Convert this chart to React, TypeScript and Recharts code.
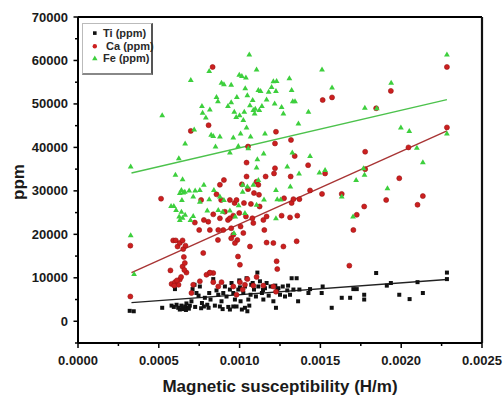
import React from 'react';
import { ScatterChart, Scatter, XAxis, YAxis, ReferenceLine, Legend } from 'recharts';

// x values are in units of 1e-4 H/m, y values in ppm
const X_UNIT = 1e-4;

const seriesNames = ['Ti (ppm)', ' Ca (ppm)', 'Fe (ppm)'];

const tiPoints: [number, number][] = [
  [3.20, 2400], [3.45, 2300], [5.21, 3100], [6.0, 7400], [5.79, 3600], [5.93, 3300], [6.10, 3800],
  [6.20, 3100], [6.30, 2700], [6.40, 3600], [6.51, 2800], [6.63, 3400], [6.71, 4100], [6.82, 3100],
  [6.92, 3600], [7.02, 4600], [7.09, 7400], [7.21, 8400], [7.33, 6500], [7.46, 5900], [7.54, 8000],
  [7.67, 4200], [7.79, 3400], [7.85, 5400], [8.0, 3800], [8.12, 6500], [8.20, 5000], [8.37, 9700],
  [8.47, 3600], [8.57, 7100], [8.68, 6100], [8.78, 3400], [8.88, 4600], [8.99, 6500], [9.09, 8000],
  [9.19, 5700], [9.30, 3300], [9.40, 7300], [9.50, 8800], [9.61, 6500], [9.71, 5000], [9.81, 3400],
  [9.92, 7300], [9.98, 9400], [10.06, 4600], [10.14, 2700], [10.23, 6500], [10.33, 8000], [10.43, 9900],
  [10.54, 5000], [10.60, 3600], [10.68, 6100], [10.81, 8800], [10.89, 7300], [11.01, 5700], [11.10, 11200],
  [11.16, 8000], [11.26, 9200], [11.38, 6500], [11.47, 5000], [11.57, 7600], [11.67, 8800], [11.80, 5900],
  [11.92, 8000], [12.09, 4600], [12.21, 8200], [12.25, 3100], [12.33, 7300], [12.50, 6100], [12.67, 8000],
  [12.81, 5700], [12.95, 7100], [13.12, 6100], [13.22, 9900], [13.33, 7300], [13.53, 9900], [13.62, 4600],
  [13.70, 7300], [14.26, 6500], [14.36, 7400], [15.08, 6500], [15.14, 8000], [15.70, 3100], [16.32, 5400],
  [16.84, 5400], [17.04, 7400], [17.25, 7400], [17.71, 6100], [17.71, 5000], [18.45, 11100], [19.11, 8200],
  [19.36, 8800], [19.88, 6100], [20.52, 5100], [21.01, 9000], [21.34, 6500], [22.83, 11200], [22.83, 9700],
  [8.08, 3100], [8.95, 2800], [9.40, 2700], [10.33, 3100], [10.48, 2300], [9.61, 3400],
  [6.45, 3000], [6.68, 2600], [6.86, 2900], [7.25, 3300], [7.62, 3000], [10.02, 7800], [10.72, 8400],
  [11.45, 7200], [12.40, 7600], [13.0, 8200],
];

const caPoints: [number, number][] = [
  [3.24, 17400], [3.24, 5700], [5.14, 28200], [5.72, 11700], [5.79, 8600], [5.89, 18600], [6.05, 18600],
  [6.16, 17200], [6.30, 18000], [6.47, 18600], [6.51, 16600], [6.65, 17400], [6.22, 8400], [6.0, 9000],
  [6.3, 9600], [6.47, 12600], [6.55, 14800], [6.61, 13400], [6.71, 11200], [6.98, 43800], [7.23, 22700],
  [7.5, 21000], [7.62, 27900], [7.75, 15700], [8.08, 45100], [8.06, 22900], [8.16, 21000], [8.16, 11100],
  [8.33, 58500], [8.37, 11100], [8.37, 24600], [8.57, 29200], [8.66, 18700], [8.78, 23700], [8.86, 27900],
  [8.99, 21000], [9.09, 25200], [9.03, 32500], [9.28, 23300], [9.40, 23700], [9.48, 21400], [9.48, 19100],
  [9.61, 24300], [9.69, 27200], [9.81, 27900], [9.86, 18700], [9.90, 14900], [9.98, 24900], [10.02, 13000],
  [10.06, 21800], [10.14, 31500], [10.23, 20300], [10.27, 27200], [10.39, 24100], [10.43, 36500], [10.52, 40200],
  [10.64, 17200], [10.70, 27000], [10.79, 23700], [10.89, 29500], [11.05, 32100], [11.16, 31400], [11.20, 29100],
  [11.24, 26400], [11.47, 23300], [11.53, 21000], [11.61, 33300], [11.67, 24100], [11.67, 18100], [12.09, 18000],
  [12.13, 34000], [12.19, 35200], [12.19, 40900], [12.25, 43600], [12.29, 13800], [12.33, 12000], [12.60, 24300],
  [12.71, 17200], [12.75, 28300], [13.12, 23900], [13.16, 33300], [13.18, 41700], [13.22, 27200], [13.33, 28100],
  [13.41, 38000], [13.53, 18400], [13.57, 24300], [13.70, 28100], [14.24, 35900], [14.36, 30100], [15.10, 29300],
  [15.14, 50900], [15.29, 34000], [15.72, 51500], [16.32, 29300], [16.79, 12800], [17.04, 21000], [17.25, 24500],
  [17.71, 26400], [17.77, 39000], [17.77, 35000], [18.45, 49000], [19.07, 27900], [19.36, 53000], [19.88, 32900],
  [20.45, 40000], [21.01, 26800], [21.34, 28800], [22.83, 58500], [22.83, 44600],
  [7.54, 9200], [7.95, 10700], [8.16, 11200], [8.37, 9000], [8.68, 8000], [8.88, 9000], [9.61, 8000],
  [9.81, 6100], [10.02, 9000], [10.19, 7300], [10.33, 8400], [10.48, 9700], [10.85, 8200], [11.05, 10200],
  [11.47, 8200], [12.09, 8000], [12.25, 6800], [7.02, 6500], [7.13, 8400], [9.61, 19900], [9.71, 18000],
  [10.52, 30400], [10.85, 22600], [9.40, 27900], [10.43, 33300], [8.78, 31400], [7.79, 23300], [8.68, 21000],
  [5.95, 8200], [6.12, 9400], [6.38, 10200], [6.58, 11800],
];

const fePoints: [number, number][] = [
  [3.26, 35600], [3.26, 19800], [3.47, 10900], [5.21, 47400], [6.03, 33700], [6.24, 37500], [6.47, 32700],
  [6.63, 40900], [6.98, 55500], [7.19, 44100], [7.67, 49500], [7.71, 48000], [7.91, 46900], [8.12, 57600],
  [8.16, 48700], [8.24, 42900], [8.37, 42600], [8.57, 51600], [8.66, 50600], [8.88, 54900], [9.03, 54500],
  [9.28, 49500], [8.51, 40200], [8.78, 42500], [9.40, 38800], [9.48, 50400], [9.48, 54400], [9.61, 42300],
  [9.67, 48200], [9.79, 47000], [9.83, 51600], [9.92, 40300], [9.98, 56700], [10.0, 47400], [10.06, 43200],
  [10.14, 56400], [10.23, 46300], [10.29, 48200], [10.35, 53600], [10.39, 56100], [10.43, 44600], [10.48, 52000],
  [10.54, 39800], [10.60, 61400], [10.64, 49700], [10.68, 42500], [10.81, 50900], [10.85, 48600], [10.93, 47800],
  [10.97, 48900], [11.05, 57900], [11.10, 37300], [11.16, 53200], [11.22, 48600], [11.30, 53000], [11.38, 49500],
  [11.49, 38600], [11.57, 43200], [11.67, 51000], [11.80, 52800], [11.98, 53900], [12.09, 55200], [12.17, 50100],
  [12.25, 53000], [12.29, 55300], [12.60, 49300], [12.71, 47800], [13.08, 55900], [13.22, 53200], [13.29, 50600],
  [13.43, 50600], [13.64, 45500], [14.26, 48200], [15.10, 57900], [15.72, 53800], [17.75, 49100], [18.49, 49000],
  [19.38, 54900], [19.98, 44600], [20.50, 43800], [20.97, 39900], [21.34, 36600], [22.83, 61400], [22.83, 43200],
  [13.26, 38800], [14.36, 38000], [14.94, 34200], [15.29, 34800], [17.02, 24100], [17.21, 32500], [17.67, 35200],
  [17.73, 33700], [19.15, 30600], [16.32, 28700], [12.95, 35600], [13.68, 34000], [13.14, 31000], [12.25, 30200],
  [12.33, 28100], [12.25, 23700], [12.54, 28000], [11.51, 28000], [11.16, 32500], [11.05, 35400], [10.85, 31400],
  [11.05, 26800], [10.33, 24900], [10.19, 29800], [10.19, 31400], [10.48, 31000], [9.65, 20300], [9.94, 26700],
  [9.73, 24100], [9.40, 25500], [9.03, 27900], [8.78, 28700], [8.68, 25600], [8.95, 25200], [8.41, 30200],
  [8.12, 28100], [8.00, 25500], [7.79, 31400], [7.54, 30200], [7.25, 30100], [7.13, 28700], [6.88, 30100],
  [6.61, 29800], [6.51, 29600], [6.40, 30200], [6.30, 29500], [6.43, 27900], [6.40, 25200], [6.30, 23300],
  [6.26, 24100], [6.07, 25600], [5.93, 26500], [5.76, 26500], [6.47, 23800], [6.63, 24500], [6.96, 23300],
  [7.13, 24200], [7.54, 27500],
];

// fitted lines: [x (1e-4), y] endpoints
const tiFit: [number, number][] = [[3.31, 4300], [22.83, 9600]];
const caFit: [number, number][] = [[3.31, 11200], [22.83, 43800]];
const feFit: [number, number][] = [[3.31, 34100], [22.83, 51000]];

const xTicks = [0, 2.5, 5, 7.5, 10, 12.5, 15, 17.5, 20, 22.5, 25];
const yTicks = [-5000, 0, 5000, 10000, 15000, 20000, 25000, 30000, 35000, 40000, 45000, 50000, 55000, 60000, 65000, 70000];

const toData = (pts: [number, number][]) => pts.map(([x, y]) => ({ x: x * X_UNIT, y }));
const toSeg = (pts: [number, number][]) => pts.map(([x, y]) => ({ x: x * X_UNIT, y }));

const FONT = '"Liberation Sans", Arial, sans-serif';
const TI_COLOR = '#111111';
const CA_COLOR = '#cc1f1f';
const FE_COLOR = '#3dcf3d';

const Square = (p: any) => <rect x={p.cx - 2} y={p.cy - 2} width={4} height={4} fill={TI_COLOR} />;
const Dot = (p: any) => <circle cx={p.cx} cy={p.cy} r={2.5} fill={CA_COLOR} stroke="#9a1414" strokeWidth={0.6} />;
const Tri = (p: any) => (
  <polygon points={`${p.cx},${p.cy - 3} ${p.cx + 2.9},${p.cy + 2} ${p.cx - 2.9},${p.cy + 2}`} fill={FE_COLOR} />
);

const XTick = (props: any) => {
  const { x, y, payload } = props;
  const v = payload.value / X_UNIT;
  const major = Math.abs(v / 5 - Math.round(v / 5)) < 1e-6;
  return (
    <g>
      <line x1={x} x2={x} y1={y} y2={y + (major ? 5 : 3)} stroke="#000" strokeWidth={1.5} />
      {major && (
        <text x={x} y={y + 17} dy="0.35em" textAnchor="middle" fontFamily={FONT} fontWeight="bold" fontSize={13} fill="#1a1a1a">
          {payload.value.toFixed(4)}
        </text>
      )}
    </g>
  );
};

const YTick = (props: any) => {
  const { x, y, payload } = props;
  const v = payload.value;
  const major = v % 10000 === 0;
  return (
    <g>
      <line x1={x - (major ? 4.5 : 3)} x2={x} y1={y} y2={y} stroke="#000" strokeWidth={1.5} />
      {major && v >= 0 && (
        <text x={x - 10} y={y} dy="0.35em" textAnchor="end" fontFamily={FONT} fontWeight="bold" fontSize={13} fill="#1a1a1a">
          {v}
        </text>
      )}
    </g>
  );
};

const LegendBox = () => {
  const row = (i: number, sym: React.ReactNode) => (
    <div key={i} style={{ display: 'flex', alignItems: 'center', height: 12.4 }}>
      <svg width={17} height={10} style={{ flex: 'none' }}>{sym}</svg>
      <span style={{ whiteSpace: 'pre' }}>{seriesNames[i]}</span>
    </div>
  );
  return (
    <div
      style={{
        width: 71,
        height: 52,
        boxSizing: 'border-box',
        border: '1px solid #bbb',
        borderRight: '2px solid #555',
        borderBottom: '2px solid #888',
        background: '#fff',
        padding: '3px 0 0 3px',
        fontFamily: FONT,
        fontWeight: 'bold',
        fontSize: 11,
        color: '#2a2a2a',
        lineHeight: '12px',
      }}
    >
      {row(0, <rect x={7} y={3.3} width={3.6} height={3.6} fill={TI_COLOR} />)}
      {row(1, <circle cx={8.8} cy={5.2} r={2.2} fill={CA_COLOR} />)}
      {row(2, <polygon points="8.8,2.4 11.5,7.2 6.1,7.2" fill={FE_COLOR} />)}
    </div>
  );
};

export default function App() {
  return (
    <div style={{ position: 'absolute', left: 0, top: 0, width: 504, height: 396, background: '#fff' }}>
      <ScatterChart width={504} height={396} margin={{ top: 17, right: 22, bottom: 0, left: 0 }}>
        <XAxis
          type="number"
          dataKey="x"
          domain={[0, 0.0025]}
          ticks={xTicks.map((t) => t * X_UNIT)}
          interval={0}
          tickSize={0}
          tickMargin={0}
          tick={<XTick />}
          tickLine={false}
          axisLine={{ stroke: '#000', strokeWidth: 2 }}
          height={53}
          allowDataOverflow
        />
        <YAxis
          type="number"
          dataKey="y"
          domain={[-5000, 70000]}
          ticks={yTicks}
          interval={0}
          tickSize={0}
          tickMargin={0}
          tick={<YTick />}
          tickLine={false}
          axisLine={{ stroke: '#000', strokeWidth: 2 }}
          width={78}
          allowDataOverflow
        />
        <ReferenceLine y={70000} stroke="#000" strokeWidth={1.8} />
        <ReferenceLine x={0.0025} stroke="#111" strokeWidth={2.2} />
        <Scatter name="Ti (ppm)" data={toData(tiPoints)} shape={Square} isAnimationActive={false} />
        <Scatter name="Ca (ppm)" data={toData(caPoints)} shape={Dot} isAnimationActive={false} />
        <Scatter name="Fe (ppm)" data={toData(fePoints)} shape={Tri} isAnimationActive={false} />
        <ReferenceLine segment={toSeg(feFit)} stroke="#4cc24c" strokeWidth={1.4} />
        <ReferenceLine segment={toSeg(caFit)} stroke="#a83434" strokeWidth={1.4} />
        <ReferenceLine segment={toSeg(tiFit)} stroke="#222" strokeWidth={1.4} />
        <Legend
          layout="horizontal"
          verticalAlign="middle"
          align="center"
          wrapperStyle={{ position: 'absolute', left: 82, top: 23, width: 71, height: 52 }}
          content={() => <LegendBox />}
        />
      </ScatterChart>
      <svg width={504} height={396} style={{ position: 'absolute', left: 0, top: 0, pointerEvents: 'none' }}>
        <text x={18} y={182} dy="0.35em" textAnchor="middle" transform="rotate(-90 18 182)" fontFamily={FONT} fontWeight="bold" fontSize={17} fill="#1a1a1a">
          ppm
        </text>
        <text x={280} y={386} dy="0.35em" textAnchor="middle" fontFamily={FONT} fontWeight="bold" fontSize={17} fill="#1a1a1a">
          Magnetic susceptibility (H/m)
        </text>
      </svg>
    </div>
  );
}
